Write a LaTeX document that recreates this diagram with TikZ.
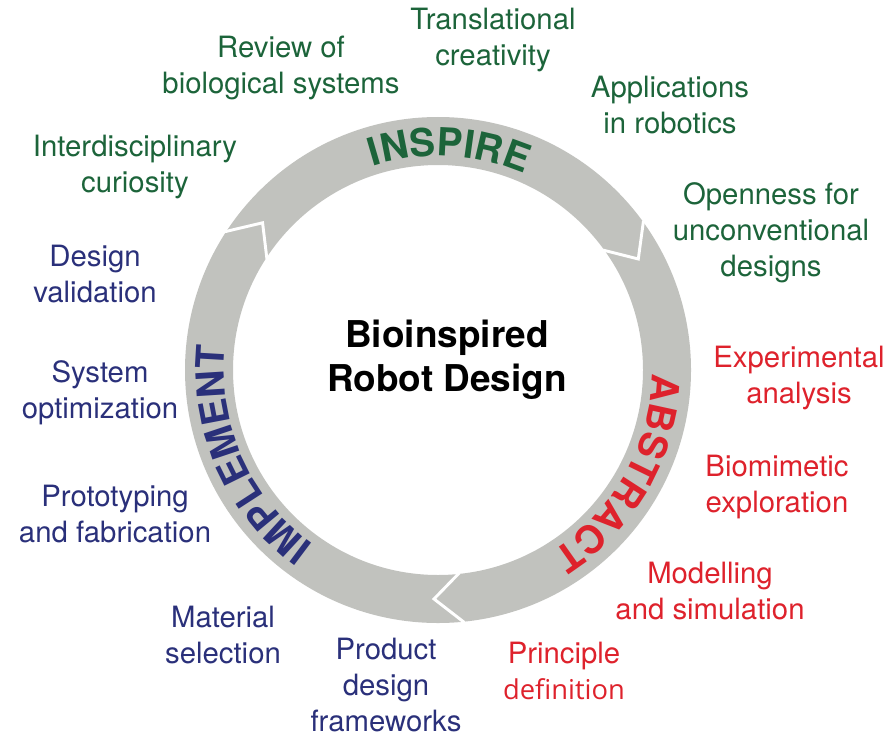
\documentclass[tikz,border=0pt]{standalone}
\usepackage{fontspec}
\setmainfont{TeX Gyre Heros}
\newfontfamily\defnfont{Open Sans}
\usetikzlibrary{decorations.text}

\definecolor{inspire}{RGB}{28,100,58}
\definecolor{abstract}{RGB}{222,34,44}
\definecolor{implement}{RGB}{42,48,122}
\definecolor{ringgray}{RGB}{193,194,190}

\newcommand{\ringfont}{\fontsize{29}{29}\selectfont\bfseries}

\tikzset{every picture/.style={line width=0.75pt},
  itemtext/.style={align=center, inner sep=0.75pt, font=\fontsize{22}{27}\selectfont},
  greentext/.style={itemtext, text=inspire},
  redtext/.style={itemtext, text=abstract},
  bluetext/.style={itemtext, text=implement},
  joint/.style={draw=white, line width=2.2pt, line join=miter},
  ringword/.style 2 args={decorate, decoration={text along path, text align=center, text={|\ringfont\color{#1}|#2}}}
}

\begin{document}
\begin{tikzpicture}[x=0.75pt,y=0.75pt,yscale=-1,xscale=1]
\useasboundingbox (0,0) rectangle (887,738);

\begin{scope}[shift={(438,370)},yscale=-1]
%Shape: Ring
\fill [ringgray, even odd rule] (0,0) circle (253) (0,0) circle (205);
%Joints between the arrows
\foreach \a in {147,36,-84}
  \draw [joint] (\a:254) -- (\a-7:229) -- (\a:204);
%Ring words
\path [ringword={inspire}{INSPIRE}] (127:214) arc [start angle=127, end angle=47, radius=214];
\path [ringword={abstract}{ABSTRACT}] (11:214) arc [start angle=11, end angle=-70, radius=214];
\path [ringword={implement}{IMPLEMENT}] (254:214) arc [start angle=254, end angle=154, radius=214];
\end{scope}

% Text Node
\node (centre) at (447,360) [align=center, font=\fontsize{27.7}{33}\selectfont\bfseries] {Bioinspired\\Robot Design};

% Text Node
\node (review) at (281,68) [greentext] {Review of\\biological systems};
% Text Node
\node (transl) at (493,40) [greentext] {Translational\\creativity};
% Text Node
\node (appl) at (670,105) [greentext] {Applications\\in robotics};
% Text Node
\node (interd) at (135,167) [greentext] {Interdisciplinary\\curiosity};
% Text Node
\node (open) at (771,233) [greentext] {Openness for\\unconventional\\designs};

% Text Node
\node (exper) at (799,378) [redtext] {Experimental\\analysis};
% Text Node
\node (biom) at (777,487) [redtext] {Biomimetic\\exploration};
% Text Node
\node (model) at (710,591) [redtext] {Modelling\\and simulation};
% Text Node
\node (princ) at (564,671) [redtext] {Principle\\{\defnfont\fontsize{20.5}{27}\selectfont definition}};

% Text Node
\node (design) at (95,274) [bluetext] {Design\\validation};
% Text Node
\node (system) at (100,393) [bluetext] {System\\optimization};
% Text Node
\node (proto) at (115,514) [bluetext] {Prototyping\\and fabrication};
% Text Node
\node (material) at (223,635) [bluetext] {Material\\selection};
% Text Node
\node (product) at (386,685) [bluetext] {Product\\design\\frameworks};

\end{tikzpicture}
\end{document}
